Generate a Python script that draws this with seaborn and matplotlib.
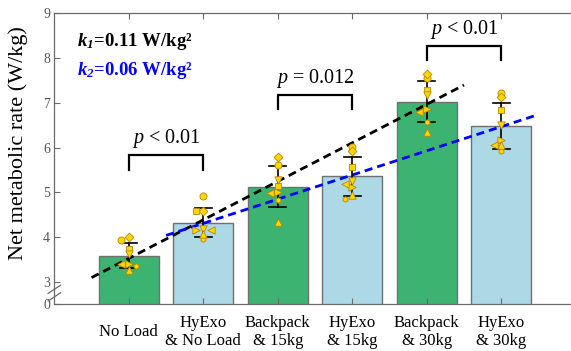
import numpy as np
import pandas as pd
import matplotlib
matplotlib.use("Agg")
import matplotlib.pyplot as plt
import seaborn as sns

# ---------------- data ----------------
conditions = ["No Load", "HyExo\n& No Load", "Backpack\n& 15kg",
              "HyExo\n& 15kg", "Backpack\n& 30kg", "HyExo\n& 30kg"]
# individual subjects (one marker shape each), values per condition
s_circle   = [3.94, 4.91, 5.62, 6.01, 7.56, 7.22]
s_diamond  = [4.01, 4.59, 5.80, 5.92, 7.65, 7.12]
s_square   = [3.73, 4.59, 5.15, 5.57, 7.28, 6.83]
s_tridown  = [3.62, 4.18, 5.27, 5.26, 7.17, 6.50]
s_triright = [3.40, 4.16, 5.02, 5.11, 6.87, 6.18]
s_trileft  = [3.39, 4.15, 4.98, 5.18, 6.79, 6.05]
s_hexagon  = [3.36, 3.95, 4.82, 4.86, 6.57, 5.92]
s_triup    = [3.26, 4.07, 4.33, 4.94, 6.35, 6.07]
subjects = [s_circle, s_diamond, s_square, s_tridown,
            s_triright, s_trileft, s_hexagon, s_triup]
subject_markers = ["o", "D", "s", "v", ">", "<", "h", "^"]
subject_sizes = [26, 20, 20, 28, 28, 28, 16, 28]

backpack_idx = [0, 2, 4]
hyexo_idx = [1, 3, 5]
k_labels = [r"$\mathbf{k}_{\mathbf{1}}$=0.11 W/kg²", r"$\mathbf{k}_{\mathbf{2}}$=0.06 W/kg²"]
p_pairs = [(0, 1), (2, 3), (4, 5)]
p_labels = [r"$p$ < 0.01", r"$p$ = 0.012", r"$p$ < 0.01"]
ytick_vals = [0, 3, 4, 5, 6, 7, 8, 9]

# ---------------- style ----------------
plt.rcParams["font.family"] = ["Liberation Serif", "DejaVu Serif"]
plt.rcParams["mathtext.fontset"] = "custom"
plt.rcParams["mathtext.rm"] = "Liberation Serif"
plt.rcParams["mathtext.it"] = "Liberation Serif:italic"
plt.rcParams["mathtext.bf"] = "Liberation Serif:italic:bold"

green = "#3CB371"
lblue = "#ADD8E6"
gray = "#6a6a6a"

rows = []
for vals in subjects:
    for c, v in zip(conditions, vals):
        rows.append({"condition": c, "rate": v})
df = pd.DataFrame(rows)

fig = plt.figure(figsize=(5.71, 3.51), dpi=100)
ax = fig.add_axes([0.0951, 0.133, 0.9049, 0.829])

sns.barplot(data=df, x="condition", y="rate", hue="condition", order=conditions,
            hue_order=conditions, palette=[green, lblue] * 3, saturation=1,
            errorbar="sd", capsize=0.23, width=0.8,
            err_kws={"color": "black", "linewidth": 1.2, "zorder": 3},
            edgecolor="#707070", linewidth=1.0, legend=False, ax=ax)
for p in ax.patches:
    p.set_zorder(1)


def swarm_offsets(vals, step=0.1, gap=0.085):
    vals = np.asarray(vals, dtype=float)
    order = np.argsort(-vals, kind="stable")
    placed, offs = [], np.zeros(len(vals))
    for i in order:
        chosen = 0.0
        for o in [0.0, -step, step, -2 * step, 2 * step]:
            if all(abs(o - po) > 1e-9 or abs(vals[i] - pv) >= gap for po, pv in placed):
                chosen = o
                break
        offs[i] = chosen
        placed.append((chosen, vals[i]))
    return offs


arr = np.array(subjects)  # subjects x conditions
offsets = np.array([swarm_offsets(arr[:, j]) for j in range(len(conditions))]).T
for si, (vals, mk, sz) in enumerate(zip(subjects, subject_markers, subject_sizes)):
    xs = np.arange(len(conditions)) + offsets[si]
    ax.scatter(xs, vals, marker=mk, s=sz, facecolor="#FFD700",
               edgecolor="#B8860B", linewidth=0.6, zorder=5)

# regression lines on condition means
means = arr.mean(axis=0)
for idx, col in [(backpack_idx, "black"), (hyexo_idx, "#0000FF")]:
    xi = np.array(idx, dtype=float)
    k, b = np.polyfit(xi, means[idx], 1)
    xx = np.array([xi.min() - 0.5, xi.max() + 0.5])
    ax.plot(xx, k * xx + b, color=col, lw=2.0, linestyle=(0, (2.9, 1.8)), zorder=2)

# significance brackets
bracket_tops = [5.83, 7.17, 8.28]
bracket_legs = [0.34, 0.30, 0.32]
for (a, c), top, leg, lab in zip(p_pairs, bracket_tops, bracket_legs, p_labels):
    ax.plot([a, a, c, c], [top - leg, top, top, top - leg], color="black",
            lw=1.6, solid_joinstyle="miter", zorder=4)
    ax.text((a + c) / 2, top + 0.37, lab, ha="center", va="center", fontsize=14.5)

# slope annotations
ax.text(-0.69, 8.37, k_labels[0], ha="left", va="center", fontsize=13.5,
        fontweight="bold", color="black")
ax.text(-0.69, 7.73, k_labels[1], ha="left", va="center", fontsize=13.5,
        fontweight="bold", color="#0000FF")

# axes (broken y axis: 0 drawn just below 3)
ylow = 2.5
ax.set_ylim(ylow, 9)
ax.set_xlim(-1, 5.936)
ax.set_yticks([ylow if v == 0 else v for v in ytick_vals])
ax.set_yticklabels([str(v) for v in ytick_vals])
ax.set_xticks(range(len(conditions)))
ax.set_xticklabels(conditions, va="center", linespacing=1.2)
ax.set_xlabel("")
ax.set_ylabel("Net metabolic rate (W/kg)", fontsize=16)
ax.yaxis.set_label_coords(-0.051, 0.553)

for side in ["left", "bottom", "top"]:
    ax.spines[side].set_color(gray)
    ax.spines[side].set_linewidth(0.9)
ax.spines["right"].set_visible(False)
ax.tick_params(axis="both", direction="in", length=4, width=0.8, color=gray)
ax.tick_params(axis="x", top=True, pad=20, labelsize=12, labelcolor="black")
ax.tick_params(axis="y", labelsize=10, labelcolor="#555555", pad=3)

# break marks on the y axis
yb = (2.75 - ylow) / (9 - ylow)
for dy in (-0.013, 0.013):
    ax.plot([-0.012, 0.012], [yb + dy - 0.014, yb + dy + 0.014], color=gray,
            lw=0.9, transform=ax.transAxes, clip_on=False, zorder=6)

fig.savefig("out.png", dpi=100)
